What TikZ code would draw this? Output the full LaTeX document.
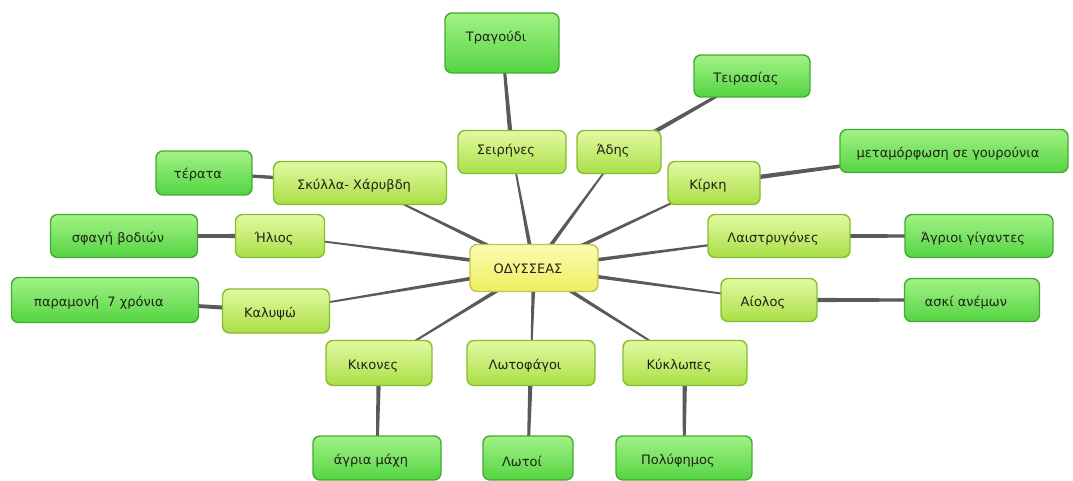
\documentclass[tikz,border=0pt]{standalone}
\usepackage{fontspec}
\setmainfont{DejaVu Sans}
\usetikzlibrary{calc}
\pgfdeclarelayer{background}
\pgfdeclarelayer{paper}
\pgfsetlayers{paper,background,main}
\definecolor{linkc}{HTML}{5A5A5A}
\definecolor{aT}{HTML}{E2F9A2}
\definecolor{aB}{HTML}{AADF46}
\definecolor{aD}{HTML}{86BE2E}
\definecolor{bT}{HTML}{A2F286}
\definecolor{bB}{HTML}{54D442}
\definecolor{bD}{HTML}{44AC34}
\definecolor{cT}{HTML}{FCFCB4}
\definecolor{cB}{HTML}{EDEF5E}
\definecolor{cD}{HTML}{C4C24A}
\definecolor{txt}{HTML}{222218}
\newcommand\tx[2][-3pt]{\raisebox{#1}[\height][\depth]{\hspace*{-12pt}#2}}
\newcommand\conn[4]{\fill[linkc] ($(#1.center)!#3!90:(#2.center)$) -- ($(#2.center)!#4!-90:(#1.center)$) -- ($(#2.center)!#4!90:(#1.center)$) -- ($(#1.center)!#3!-90:(#2.center)$) -- cycle;}
\tikzset{
  basebox/.style={rectangle, rounded corners=7pt, line width=1.4pt, inner sep=0pt, text=txt, font=\fontsize{13}{15}\selectfont},
  centerbox/.style={basebox, top color=cT, bottom color=cB, draw=cD},
  firstbox/.style={basebox, top color=aT, bottom color=aB, draw=aD},
  secondbox/.style={basebox, top color=bT, bottom color=bB, draw=bD},
}
\begin{document}
\begin{tikzpicture}[x=1pt,y=-1pt]
\begin{pgfonlayer}{paper}
\fill[white] (0,0) rectangle (1073,481);
\end{pgfonlayer}
\useasboundingbox (0,0) rectangle (1073,481);
% center
\node[centerbox, minimum width=128pt, minimum height=47pt] (c) at (534,268) {\tx[-1pt]{ΟΔΥΣΣΕΑΣ}};
% first level
\node[firstbox, minimum width=108pt, minimum height=43pt] (s1) at (512,152) {\tx[1pt]{Σειρήνες}};
\node[firstbox, minimum width=84pt, minimum height=43pt] (s2) at (619,152) {\tx[1pt]{Άδης}};
\node[firstbox, minimum width=92pt, minimum height=43pt] (s3) at (714,183) {\tx{Κίρκη}};
\node[firstbox, minimum width=142pt, minimum height=43pt] (s4) at (779,236) {\tx{Λαιστρυγόνες}};
\node[firstbox, minimum width=96pt, minimum height=43pt] (s5) at (769,300) {\tx{Αίολος}};
\node[firstbox, minimum width=124pt, minimum height=45pt] (s6) at (685,363) {\tx{Κύκλωπες}};
\node[firstbox, minimum width=128pt, minimum height=45pt] (s7) at (531,363) {\tx{Λωτοφάγοι}};
\node[firstbox, minimum width=106pt, minimum height=45pt] (s8) at (379,363) {\tx{Κικονες}};
\node[firstbox, minimum width=107pt, minimum height=44pt] (s9) at (276,311) {\tx{Καλυψώ}};
\node[firstbox, minimum width=89pt, minimum height=43pt] (s10) at (280,236) {\tx{Ήλιος}};
\node[firstbox, minimum width=173pt, minimum height=43pt] (s11) at (360,183) {\tx{Σκύλλα- Χάρυβδη}};
% second level
\node[secondbox, minimum width=114pt, minimum height=60pt] (t1) at (502,43) {\tx[5pt]{Τραγούδι}};
\node[secondbox, minimum width=116pt, minimum height=42pt] (t2) at (752,76) {\tx{Τειρασίας}};
\node[secondbox, minimum width=228pt, minimum height=43pt] (t3) at (954,151) {\tx{μεταμόρφωση σε γουρούνια}};
\node[secondbox, minimum width=148pt, minimum height=43pt] (t4) at (979,236) {\tx{Άγριοι γίγαντες}};
\node[secondbox, minimum width=135pt, minimum height=43pt] (t5) at (972,300) {\tx{ασκί ανέμων}};
\node[secondbox, minimum width=136pt, minimum height=44pt] (t6) at (684,458) {\tx{Πολύφημος}};
\node[secondbox, minimum width=90pt, minimum height=44pt] (t7) at (528,458) {\tx{Λωτοί}};
\node[secondbox, minimum width=128pt, minimum height=44pt] (t8) at (377,458) {\tx{άγρια μάχη}};
\node[secondbox, minimum width=187pt, minimum height=45pt] (t9) at (105,300) {\tx{παραμονή\ \ 7 χρόνια}};
\node[secondbox, minimum width=147pt, minimum height=43pt] (t10) at (124,236) {\tx{σφαγή βοδιών}};
\node[secondbox, minimum width=96pt, minimum height=44pt] (t11) at (204,173) {\tx[-2pt]{τέρατα}};
% connectors
\begin{pgfonlayer}{background}
\foreach \s in {s1,s2,s3,s4,s5,s6,s7,s8,s9,s10,s11} {\conn{c}{\s}{2.2pt}{0.6pt}}
\conn{s1}{t1}{2.4pt}{1.2pt}
\conn{s2}{t2}{2.4pt}{1.2pt}
\conn{s3}{t3}{2.4pt}{1.2pt}
\conn{s4}{t4}{2.4pt}{1.2pt}
\conn{s5}{t5}{2.4pt}{1.2pt}
\conn{s6}{t6}{2.4pt}{1.2pt}
\conn{s7}{t7}{2.4pt}{1.2pt}
\conn{s8}{t8}{2.4pt}{1.2pt}
\conn{s9}{t9}{2.4pt}{1.2pt}
\conn{s10}{t10}{2.4pt}{1.2pt}
\conn{s11}{t11}{2.4pt}{1.2pt}
\end{pgfonlayer}
\end{tikzpicture}
\end{document}
